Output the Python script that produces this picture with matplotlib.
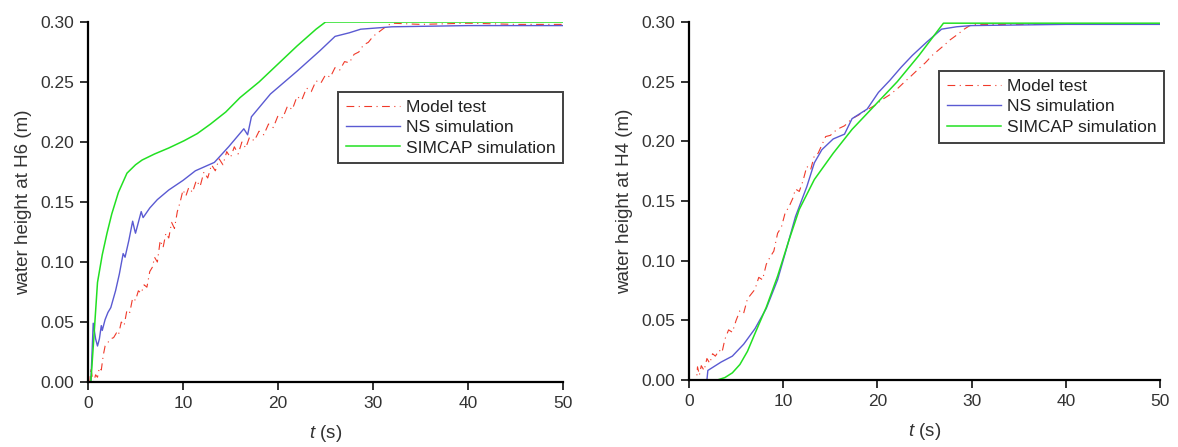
import numpy as np
import matplotlib
matplotlib.use('Agg')
import matplotlib.pyplot as plt

plt.rcParams['font.family'] = ['Liberation Sans', 'DejaVu Sans']
plt.rcParams['mathtext.fontset'] = 'custom'
plt.rcParams['mathtext.it'] = 'Liberation Sans:italic'
plt.rcParams['mathtext.rm'] = 'Liberation Sans'

# ---- left panel (H6) ----
t_mt6 = [0.0,0.2,0.3,0.45,0.6,0.8,1.0,1.2,1.4,1.6,1.8,2.1,2.4,2.7,3.0,3.2,3.5,3.8,4.1,4.4,
         4.7,5.0,5.3,5.6,5.9,6.2,6.5,6.8,7.0,7.3,7.6,7.9,8.2,8.5,8.8,9.1,9.4,9.7,10.0,10.3,
         10.6,11.0,11.4,11.8,12.2,12.6,13.0,13.4,13.8,14.2,14.6,15.0,15.4,15.8,16.2,16.6,17.0,17.5,18.0,18.5,
         19.0,19.5,20.0,20.5,21.0,21.5,22.0,22.5,23.0,23.5,24.0,24.5,25.0,25.5,26.0,26.5,27.0,27.5,28.0,28.5,
         29.0,29.5,30.0,30.5,31.0,31.5,32.0,35.0,40.0,45.0,50.0]
h_mt6 = [0.0,0.0,0.012,0.004,0.0,0.006,0.004,0.012,0.010,0.022,0.030,0.033,0.036,0.037,0.041,0.039,0.050,0.047,0.060,0.058,
         0.070,0.068,0.076,0.074,0.081,0.079,0.092,0.096,0.104,0.100,0.118,0.112,0.124,0.120,0.133,0.128,0.142,0.150,0.160,0.155,
         0.162,0.158,0.168,0.163,0.175,0.170,0.181,0.176,0.186,0.181,0.192,0.187,0.196,0.190,0.200,0.195,0.204,0.201,0.209,0.206,
         0.215,0.212,0.222,0.220,0.230,0.227,0.238,0.235,0.245,0.242,0.251,0.249,0.256,0.254,0.262,0.260,0.267,0.266,0.273,0.275,
         0.281,0.283,0.288,0.291,0.294,0.297,0.299,0.298,0.299,0.298,0.298]

t_ns6 = [0.0,0.3,0.55,0.8,1.0,1.2,1.4,1.5,1.8,2.1,2.4,2.9,3.3,3.7,3.9,4.3,4.7,4.9,5.0,5.3,
         5.6,5.8,6.5,7.3,8.5,10.0,11.3,13.3,14.8,16.4,16.8,17.2,19.2,22.0,24.4,26.0,27.5,28.7,32.0,40.0,50.0]
h_ns6 = [0.0,0.0,0.049,0.036,0.030,0.036,0.047,0.043,0.052,0.058,0.062,0.076,0.090,0.107,0.104,0.118,0.134,0.127,0.124,0.133,
         0.142,0.137,0.145,0.152,0.160,0.168,0.176,0.183,0.196,0.211,0.206,0.221,0.240,0.259,0.276,0.288,0.291,0.294,0.296,0.297,0.297]

t_sc6 = [0.0,0.3,0.6,1.0,1.5,2.0,2.5,3.2,4.1,5.0,5.7,7.0,8.5,10.1,11.5,12.9,14.5,16.0,18.0,20.0,22.0,24.0,25.0,30.0,40.0,50.0]
h_sc6 = [0.0,0.0,0.035,0.083,0.106,0.124,0.140,0.158,0.174,0.181,0.185,0.190,0.195,0.201,0.207,0.215,0.225,0.237,0.250,0.265,0.280,0.294,0.300,0.300,0.300,0.300]

# ---- right panel (H4) ----
t_mt4 = [0.0,0.8,0.9,1.1,1.3,1.6,1.9,2.2,2.5,2.8,3.2,3.5,3.8,4.2,4.6,5.0,5.4,5.8,6.2,6.6,
         7.0,7.4,7.8,8.2,8.6,9.0,9.4,9.8,10.2,10.6,11.0,11.3,11.7,12.1,12.5,12.9,13.3,13.7,14.1,14.5,
         15.0,15.7,16.5,17.3,18.0,18.8,19.7,20.5,21.3,22.1,22.9,23.6,24.4,25.1,25.8,26.4,27.0,27.7,28.4,29.2,
         30.0,35.0,40.0,45.0,50.0]
h_mt4 = [0.0,0.0,0.011,0.004,0.012,0.008,0.018,0.014,0.022,0.020,0.025,0.023,0.034,0.042,0.040,0.050,0.058,0.056,0.068,0.072,
         0.076,0.086,0.084,0.097,0.103,0.108,0.123,0.128,0.140,0.145,0.152,0.160,0.158,0.167,0.179,0.176,0.188,0.190,0.197,0.204,
         0.205,0.210,0.213,0.219,0.222,0.226,0.230,0.235,0.239,0.244,0.250,0.255,0.261,0.266,0.272,0.276,0.280,0.285,0.289,0.294,
         0.298,0.298,0.298,0.298,0.298]

t_ns4 = [0.0,1.9,2.0,2.6,3.4,4.6,5.8,7.0,8.2,9.4,10.2,11.3,12.5,13.3,14.1,15.3,16.5,17.3,18.9,20.1,
         21.3,22.5,23.7,25.2,26.8,28.4,30.0,40.0,50.0]
h_ns4 = [0.0,0.0,0.008,0.011,0.015,0.020,0.030,0.043,0.060,0.084,0.106,0.137,0.162,0.182,0.193,0.202,0.206,0.219,0.227,0.241,
         0.251,0.262,0.272,0.283,0.294,0.296,0.297,0.298,0.298]

t_sc4 = [0.0,3.0,3.8,4.6,5.4,6.2,7.0,8.2,9.4,10.6,11.7,13.3,15.3,17.3,19.7,22.1,24.4,27.0,30.0,40.0,50.0]
h_sc4 = [0.0,0.0,0.002,0.006,0.013,0.024,0.039,0.061,0.087,0.117,0.143,0.168,0.190,0.210,0.230,0.250,0.272,0.299,0.299,0.299,0.299]

c_mt = '#f03a2a'
c_ns = '#5a5ad2'
c_sc = '#22e022'
fs = 12.5
tc = '#333333'

fig = plt.figure(figsize=(11.78, 4.47), dpi=100)
ax1 = fig.add_axes([0.0747, 0.1454, 0.4033, 0.8054])
ax2 = fig.add_axes([0.5849, 0.1499, 0.4000, 0.8009])

panels = [(ax1, t_mt6, h_mt6, t_ns6, h_ns6, t_sc6, h_sc6, 'water height at H6 (m)', (0.526, 0.806)),
          (ax2, t_mt4, h_mt4, t_ns4, h_ns4, t_sc4, h_sc4, 'water height at H4 (m)', (0.531, 0.863))]

for ax, tm, hm, tn, hn, ts, hs, ylab, lpos in panels:
    ax.plot(tm, hm, color=c_mt, linewidth=0.8, dashes=(7, 4, 1, 4), label='Model test')
    ax.plot(tn, hn, color=c_ns, linewidth=1.0, label='NS simulation')
    ax.plot(ts, hs, color=c_sc, linewidth=1.1, label='SIMCAP simulation')
    ax.set_xlim(0, 50)
    ax.set_ylim(0, 0.30)
    ax.set_xticks([0, 10, 20, 30, 40, 50])
    ax.set_yticks([0.0, 0.05, 0.10, 0.15, 0.20, 0.25, 0.30])
    ax.set_yticklabels(['0.00', '0.05', '0.10', '0.15', '0.20', '0.25', '0.30'])
    ax.spines['top'].set_visible(False)
    ax.spines['right'].set_visible(False)
    ax.spines['left'].set_linewidth(1.6)
    ax.spines['bottom'].set_linewidth(1.6)
    ax.tick_params(axis='both', direction='out', length=6, width=1.3, labelsize=fs,
                   labelcolor=tc, color='#222222', pad=4)
    ax.set_ylabel(ylab, fontsize=13.5, color=tc, labelpad=6)
    ax.set_xlabel(r'$t$ (s)', fontsize=13.5, color=tc, labelpad=9)
    leg = ax.legend(loc='upper left', bbox_to_anchor=lpos, borderaxespad=0, fontsize=fs, frameon=True,
                    fancybox=False, edgecolor='#111111', handlelength=3.1, borderpad=0.45,
                    labelspacing=0.3, handletextpad=0.35)
    leg.get_frame().set_linewidth(1.4)
    for txt in leg.get_texts():
        txt.set_color('#222222')

fig.savefig('out.png', dpi=100)
